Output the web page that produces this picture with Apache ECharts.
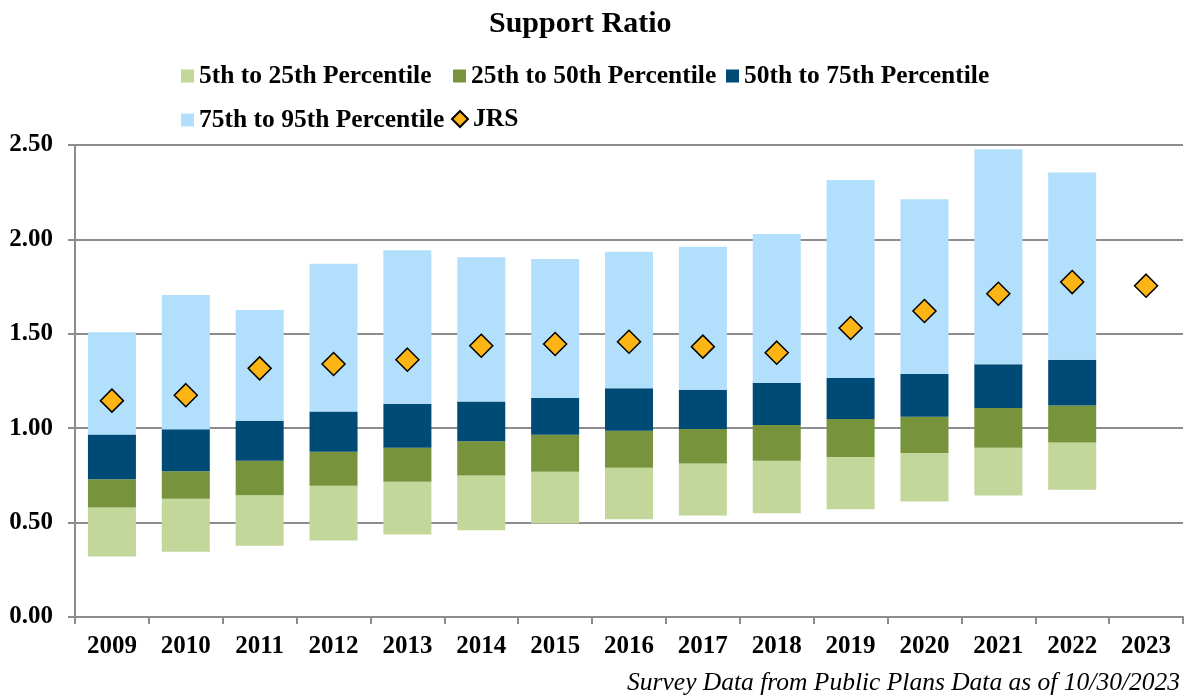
<!DOCTYPE html>
<html>
<head>
<meta charset="utf-8">
<title>Support Ratio</title>
<script src="https://cdn.jsdelivr.net/npm/echarts@6/dist/echarts.min.js"></script>
<style>
  html, body { margin: 0; padding: 0; background: #fff; }
  #chart { width: 1193px; height: 698px; }
</style>
</head>
<body>
<div id="chart"></div>
<script>
// years on the x axis
const years = ['2009', '2010', '2011', '2012', '2013', '2014', '2015', '2016', '2017', '2018', '2019', '2020', '2021', '2022', '2023']

// percentile levels (2023 has no survey bars)
const p5 = [0.32, 0.345, 0.377, 0.405, 0.437, 0.46, 0.495, 0.518, 0.538, 0.55, 0.571, 0.612, 0.643, 0.674, null]
const p25 = [0.58, 0.626, 0.645, 0.695, 0.717, 0.749, 0.769, 0.79, 0.813, 0.827, 0.848, 0.869, 0.897, 0.924, null]
const p50 = [0.73, 0.772, 0.827, 0.875, 0.896, 0.931, 0.965, 0.986, 0.996, 1.017, 1.049, 1.06, 1.107, 1.12, null]
const p75 = [0.966, 0.995, 1.04, 1.088, 1.13, 1.141, 1.16, 1.212, 1.203, 1.24, 1.266, 1.287, 1.339, 1.363, null]
const p95 = [1.508, 1.705, 1.626, 1.871, 1.943, 1.905, 1.896, 1.934, 1.961, 2.028, 2.314, 2.212, 2.478, 2.354, null]

// JRS ratio
const jrs = [1.146, 1.175, 1.317, 1.34, 1.363, 1.437, 1.446, 1.458, 1.432, 1.40, 1.531, 1.621, 1.712, 1.774, 1.755]

const yTicks = [0, 0.5, 1, 1.5, 2, 2.5]

const FONT = '"Times New Roman", "Liberation Serif", serif'

// stacked bands: difference between two percentile levels
function band(hi, lo) {
  return hi.map((v, i) => (v == null || lo[i] == null ? null : +(v - lo[i]).toFixed(3)))
}

const chart1 = echarts.init(document.getElementById('chart'))

const legendText = {
  color: '#000',
  fontFamily: FONT,
  fontWeight: 'bold',
  fontSize: 25.5
}

function legendAt(name, left, top, icon) {
  return {
    data: [{ name: name, icon: icon || 'rect' }],
    left: left,
    top: top,
    itemWidth: icon ? 16 : 13,
    itemHeight: icon ? 16 : 13,
    itemGap: 0,
    padding: 0,
    selectedMode: false,
    textStyle: legendText
  }
}

chart1.setOption({
  animation: false,
  title: [
    {
      text: 'Support Ratio',
      left: 484,
      top: 4,
      textStyle: { fontFamily: FONT, fontWeight: 'bold', fontSize: 30, color: '#000' }
    },
    {
      text: 'Survey Data from Public Plans Data as of 10/30/2023',
      right: 13,
      top: 670,
      padding: 0,
      textStyle: { fontFamily: FONT, fontStyle: 'italic', fontWeight: 'normal', fontSize: 25.5, color: '#000' }
    }
  ],
  legend: [
    legendAt('5th to 25th Percentile', 181, 63),
    legendAt('25th to 50th Percentile', 453, 63),
    legendAt('50th to 75th Percentile', 726, 63),
    legendAt('75th to 95th Percentile', 181, 107),
    legendAt('JRS', 451, 106, 'diamond')
  ],
  grid: {
    left: 75,
    right: 10,
    top: 145,
    bottom: 81
  },
  xAxis: {
    type: 'category',
    data: years,
    boundaryGap: true,
    axisLine: { lineStyle: { color: '#8c8c8c', width: 2 } },
    axisTick: { show: true, length: 7, lineStyle: { color: '#8c8c8c', width: 2 } },
    axisLabel: {
      color: '#000',
      fontFamily: FONT,
      fontWeight: 'bold',
      fontSize: 25,
      margin: 17
    }
  },
  yAxis: {
    type: 'value',
    min: yTicks[0],
    max: yTicks[yTicks.length - 1],
    interval: 0.5,
    axisLine: { show: true, lineStyle: { color: '#8c8c8c', width: 2 } },
    axisTick: { show: true, length: 7, lineStyle: { color: '#8c8c8c', width: 2 } },
    splitLine: { show: true, lineStyle: { color: '#8c8c8c', width: 2 } },
    axisLabel: {
      color: '#000',
      fontFamily: FONT,
      fontWeight: 'bold',
      fontSize: 25,
      margin: 22,
      formatter: (v) => v.toFixed(2)
    }
  },
  series: [
    {
      name: 'base',
      type: 'bar',
      stack: 'pct',
      barCategoryGap: '35%',
      data: p5,
      itemStyle: { color: 'rgba(0,0,0,0)' },
      silent: true
    },
    {
      name: '5th to 25th Percentile',
      type: 'bar',
      stack: 'pct',
      data: band(p25, p5),
      itemStyle: { color: '#c4d79b' }
    },
    {
      name: '25th to 50th Percentile',
      type: 'bar',
      stack: 'pct',
      data: band(p50, p25),
      itemStyle: { color: '#77933c' }
    },
    {
      name: '50th to 75th Percentile',
      type: 'bar',
      stack: 'pct',
      data: band(p75, p50),
      itemStyle: { color: '#004a76' }
    },
    {
      name: '75th to 95th Percentile',
      type: 'bar',
      stack: 'pct',
      data: band(p95, p75),
      itemStyle: { color: '#b2dffb' }
    },
    {
      name: 'JRS',
      type: 'scatter',
      symbol: 'diamond',
      symbolSize: 23,
      data: jrs,
      z: 5,
      itemStyle: { color: '#fdb515', borderColor: '#000', borderWidth: 1.5, opacity: 1 }
    }
  ]
})
</script>
</body>
</html>
